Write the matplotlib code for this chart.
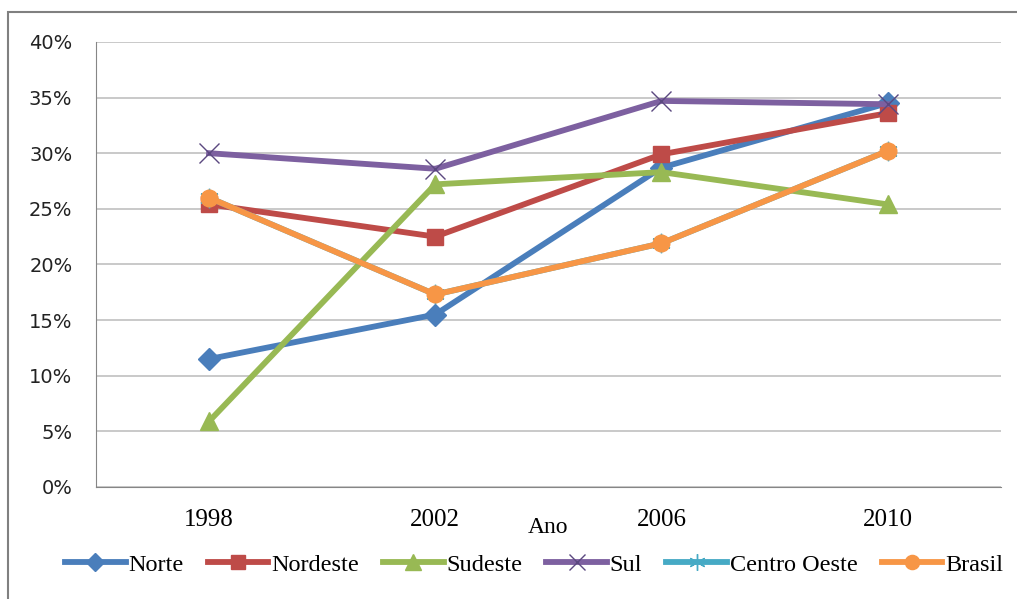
import matplotlib
matplotlib.use("Agg")
import matplotlib.pyplot as plt
from matplotlib.ticker import FuncFormatter
from matplotlib.patches import Rectangle

years = ["1998", "2002", "2006", "2010"]
norte = [11.5, 15.5, 28.7, 34.5]
nordeste = [25.4, 22.5, 29.9, 33.6]
sudeste = [5.9, 27.2, 28.3, 25.4]
sul = [30.0, 28.6, 34.7, 34.4]
centro_oeste = [26.0, 17.3, 21.9, 30.2]
brasil = [26.0, 17.3, 21.9, 30.2]
y_ticks = [0, 5, 10, 15, 20, 25, 30, 35, 40]

series = [
    ("Norte", norte, "#4A7EBB", "D", 11, "#4A7EBB"),
    ("Nordeste", nordeste, "#BE4B48", "s", 12, "#BE4B48"),
    ("Sudeste", sudeste, "#98B954", "^", 13, "#98B954"),
    ("Sul", sul, "#7D60A0", "x", 14, "#5B4880"),
    ("Centro Oeste", centro_oeste, "#46AAC5", (6, 2, 0), 14, "#46AAC5"),
    ("Brasil", brasil, "#F79646", "o", 12, "#F79646"),
]

fig = plt.figure(figsize=(10.17, 5.99), dpi=100)
ax = fig.add_axes([0.0944, 0.187, 0.8896, 0.743])

x = list(range(len(years)))
for name, vals, col, mk, ms, mec in series:
    kw = dict(color=col, lw=4.2, marker=mk, markersize=ms, label=name,
              markerfacecolor=col, markeredgecolor=mec)
    if mk == "x" or isinstance(mk, tuple):
        kw["markeredgewidth"] = 1.0
    ax.plot(x, vals, **kw)

ax.set_xlim(-0.5, len(years) - 0.5)
ax.set_ylim(0, 40)
ax.set_yticks(y_ticks)
ax.yaxis.set_major_formatter(FuncFormatter(lambda v, p: f"{int(v)}%"))
ax.set_xticks(x)
ax.set_xticklabels(years, fontfamily="Liberation Serif", fontsize=18)
for lab in ax.get_yticklabels():
    lab.set_fontfamily("DejaVu Sans")
    lab.set_fontsize(14)
    lab.set_color("#222222")
ax.tick_params(axis="both", length=0)
ax.tick_params(axis="y", pad=17)
ax.tick_params(axis="x", pad=16)
ax.grid(axis="y", color="#C0C0C0", lw=1.2)
ax.set_axisbelow(True)
for s in ["top", "right"]:
    ax.spines[s].set_visible(False)
ax.spines["left"].set_color("#868686")
ax.spines["bottom"].set_color("#868686")
ax.set_xlabel("Ano", fontfamily="Liberation Serif", fontsize=17, labelpad=-10)

fig.legend(loc="center", bbox_to_anchor=(0.525, 0.057), ncol=6, frameon=False,
           prop={"family": "Liberation Serif", "size": 17.5},
           handlelength=2.5, handletextpad=0.1, columnspacing=1.0,
           markerscale=0.85)

fig.patches.append(Rectangle((0.008, -0.1), 1.2, 1.1 - 0.02, transform=fig.transFigure,
                             fill=False, edgecolor="#808080", lw=1.5))

fig.savefig("out.png", dpi=100)
